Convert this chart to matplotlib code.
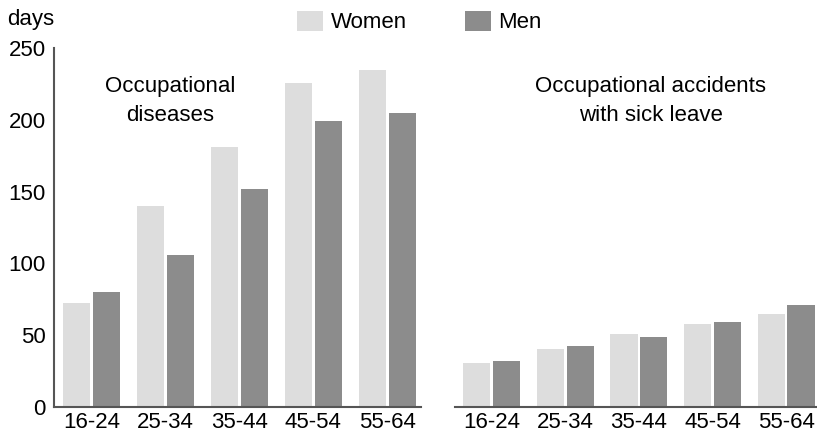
import matplotlib.pyplot as plt
import numpy as np

plt.rcParams['font.family'] = ['Liberation Sans', 'DejaVu Sans']

ages = ['16-24', '25-34', '35-44', '45-54', '55-64']
disease_women = [72.5, 140, 181, 225.5, 234.5]
disease_men = [80, 106, 152, 199, 204.5]
accident_women = [31, 40.5, 51, 58, 65]
accident_men = [32, 42.5, 49, 59, 71]

c_women = '#dddddd'
c_men = '#8c8c8c'
c_axis = '#555555'
fs = 16

W, H = 817, 434
fig = plt.figure(figsize=(W / 100, H / 100), dpi=100)

def px_axes(x0, x1, y_top, y_bot):
    return fig.add_axes([x0 / W, (H - y_bot) / H, (x1 - x0) / W, (y_bot - y_top) / H])

ax1 = px_axes(54.3, 421, 47.7, 407.3)
ax2 = px_axes(455, 817, 47.7, 407.3)

x = np.arange(len(ages))
bw = 0.37
off = 0.203
for ax, w, m in [(ax1, disease_women, disease_men),
                 (ax2, accident_women, accident_men)]:
    ax.bar(x - off, w, bw, color=c_women, label='Women')
    ax.bar(x + off, m, bw, color=c_men, label='Men')
    ax.set_ylim(0, 250)
    for s in ['top', 'right']:
        ax.spines[s].set_visible(False)
    ax.spines['bottom'].set_color(c_axis)
    ax.spines['bottom'].set_linewidth(1.5)
    ax.spines['left'].set_color(c_axis)
    ax.spines['left'].set_linewidth(1.5)
    ax.set_xticks(x)
    ax.set_xticklabels(ages)
    ax.tick_params(length=0, labelsize=fs, pad=3.5)

ax1.set_xlim(-0.5, 4.455)
ax2.set_xlim(-0.5, 4.42)
ax1.set_yticks([0, 50, 100, 150, 200, 250])
ax1.tick_params(axis='y', pad=6)
ax2.spines['left'].set_visible(False)
ax2.set_yticks([])

ax1.text(1.06, 213, 'Occupational\ndiseases', ha='center', va='center', fontsize=fs, linespacing=1.45)
ax2.text(2.16, 213, 'Occupational accidents\nwith sick leave', ha='center', va='center', fontsize=fs, linespacing=1.45)

fig.text(7 / W, 1 - 24.5 / H, 'days', fontsize=fs, va='baseline')

handles, labels = ax1.get_legend_handles_labels()
fig.legend(handles, labels, loc='center left', bbox_to_anchor=(297 / W, 1 - 22 / H), ncol=2,
           frameon=False, fontsize=fs, handlelength=1.17, handleheight=1.04,
           handletextpad=0.35, columnspacing=2.6, borderaxespad=0, borderpad=0)

fig.savefig('out.png', dpi=100)
